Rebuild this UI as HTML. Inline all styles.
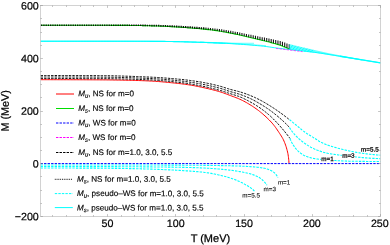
<!DOCTYPE html>
<html><head><meta charset="utf-8"><title>chart</title>
<style>html,body{margin:0;padding:0;background:#fff;width:390px;height:245px;overflow:hidden}body{font-family:"Liberation Sans",sans-serif;position:relative}</style></head>
<body>
<svg width="390" height="245" viewBox="0 0 390 245" style="position:absolute;left:0;top:0;will-change:transform">
<rect x="0" y="0" width="390" height="245" fill="#fff"/>
<clipPath id="cp"><rect x="40.5" y="5.5" width="340.0" height="211.0"/></clipPath>
<g fill="none" stroke-linecap="butt" stroke-linejoin="round" clip-path="url(#cp)">
<path d="M40.50,79.70 L41.94,79.70 L43.38,79.70 L44.82,79.70 L46.26,79.70 L47.71,79.70 L49.15,79.70 L50.59,79.70 L52.03,79.71 L53.47,79.71 L54.91,79.71 L56.35,79.71 L57.79,79.71 L59.23,79.72 L60.67,79.72 L62.12,79.72 L63.56,79.72 L65.00,79.73 L66.44,79.73 L67.88,79.73 L69.32,79.74 L70.76,79.74 L72.20,79.75 L73.64,79.75 L75.08,79.75 L76.52,79.76 L77.97,79.76 L79.41,79.77 L80.85,79.77 L82.29,79.78 L83.73,79.78 L85.17,79.79 L86.61,79.79 L88.05,79.80 L89.49,79.80 L90.93,79.81 L92.38,79.82 L93.82,79.82 L95.26,79.83 L96.70,79.83 L98.14,79.84 L99.58,79.85 L101.02,79.86 L102.46,79.86 L103.90,79.88 L105.34,79.89 L106.78,79.90 L108.22,79.92 L109.67,79.94 L111.11,79.95 L112.55,79.97 L113.99,80.00 L115.43,80.02 L116.87,80.04 L118.31,80.07 L119.75,80.09 L121.19,80.12 L122.63,80.15 L124.07,80.18 L125.51,80.21 L126.96,80.24 L128.40,80.27 L129.84,80.30 L131.28,80.33 L132.72,80.36 L134.16,80.40 L135.60,80.44 L137.04,80.48 L138.48,80.53 L139.92,80.58 L141.36,80.63 L142.80,80.69 L144.24,80.74 L145.68,80.80 L147.12,80.87 L148.56,80.93 L150.00,81.00 L151.44,81.07 L152.87,81.16 L154.31,81.25 L155.75,81.34 L157.19,81.45 L158.62,81.56 L160.06,81.67 L161.50,81.79 L162.93,81.92 L164.37,82.05 L165.80,82.18 L167.24,82.32 L168.67,82.46 L170.11,82.60 L171.54,82.75 L172.98,82.89 L174.41,83.04 L175.84,83.19 L177.27,83.34 L178.71,83.50 L180.14,83.67 L181.57,83.84 L183.00,84.02 L184.43,84.20 L185.86,84.40 L187.29,84.60 L188.71,84.80 L190.13,85.02 L191.56,85.25 L192.98,85.50 L194.39,85.76 L195.81,86.04 L197.22,86.32 L198.63,86.61 L200.04,86.91 L201.45,87.21 L202.86,87.51 L204.27,87.82 L205.68,88.13 L207.09,88.45 L208.49,88.78 L209.90,89.11 L211.30,89.45 L212.70,89.80 L214.10,90.16 L215.49,90.53 L216.88,90.90 L218.26,91.29 L219.64,91.69 L221.02,92.11 L222.38,92.57 L223.74,93.04 L225.10,93.54 L226.45,94.05 L227.80,94.56 L229.14,95.08 L230.49,95.58 L231.85,96.08 L233.20,96.58 L234.56,97.09 L235.91,97.60 L237.25,98.13 L238.58,98.68 L239.89,99.25 L241.19,99.86 L242.49,100.49 L243.77,101.15 L245.05,101.83 L246.31,102.53 L247.56,103.25 L248.81,103.98 L250.04,104.72 L251.26,105.48 L252.47,106.26 L253.67,107.06 L254.86,107.88 L256.04,108.71 L257.21,109.56 L258.37,110.43 L259.50,111.31 L260.62,112.20 L261.74,113.11 L262.84,114.04 L263.92,114.99 L265.00,115.96 L266.07,116.94 L267.12,117.93 L268.15,118.94 L269.17,119.95 L270.17,120.98 L271.16,122.03 L272.12,123.11 L273.06,124.21 L273.96,125.33 L274.83,126.47 L275.69,127.63 L276.52,128.81 L277.34,130.00 L278.14,131.20 L278.94,132.40 L279.72,133.61 L280.52,134.82 L281.30,136.04 L282.05,137.28 L282.76,138.53 L283.41,139.80 L284.00,141.10 L284.56,142.43 L285.10,143.78 L285.59,145.14 L286.05,146.51 L286.47,147.89 L286.85,149.27 L287.22,150.67 L287.57,152.07 L287.88,153.49 L288.14,154.90 L288.34,156.32 L288.52,157.75 L288.68,159.18 L288.82,160.61 L288.93,162.05 L289.00,163.50" stroke="#f00" stroke-width="1.0"/>
<path d="M40.50,25.30 L42.60,25.30 L44.69,25.30 L46.79,25.30 L48.89,25.30 L50.98,25.30 L53.08,25.30 L55.18,25.30 L57.27,25.30 L59.37,25.30 L61.47,25.30 L63.56,25.30 L65.66,25.30 L67.76,25.30 L69.85,25.30 L71.95,25.30 L74.05,25.30 L76.14,25.30 L78.24,25.30 L80.34,25.30 L82.43,25.30 L84.53,25.30 L86.63,25.30 L88.72,25.30 L90.82,25.30 L92.92,25.30 L95.01,25.30 L97.11,25.30 L99.21,25.30 L101.30,25.30 L103.40,25.30 L105.50,25.31 L107.59,25.31 L109.69,25.32 L111.79,25.33 L113.88,25.34 L115.98,25.35 L118.08,25.36 L120.17,25.37 L122.27,25.38 L124.37,25.40 L126.46,25.41 L128.56,25.42 L130.66,25.44 L132.75,25.46 L134.85,25.48 L136.95,25.51 L139.04,25.54 L141.14,25.57 L143.24,25.61 L145.33,25.67 L147.43,25.73 L149.53,25.79 L151.62,25.84 L153.72,25.90 L155.82,25.96 L157.91,26.03 L160.01,26.10 L162.11,26.18 L164.20,26.27 L166.30,26.37 L168.39,26.48 L170.49,26.59 L172.59,26.71 L174.68,26.83 L176.78,26.96 L178.88,27.09 L180.97,27.23 L183.07,27.38 L185.17,27.53 L187.26,27.69 L189.36,27.85 L191.46,28.01 L193.55,28.18 L195.65,28.36 L197.75,28.54 L199.84,28.74 L201.94,28.94 L204.04,29.14 L206.13,29.36 L208.23,29.58 L210.33,29.82 L212.42,30.07 L214.52,30.34 L216.62,30.63 L218.71,30.95 L220.81,31.30 L222.91,31.67 L225.00,32.05 L227.10,32.45 L229.20,32.85 L231.29,33.25 L233.39,33.68 L235.49,34.12 L237.58,34.57 L239.68,35.03 L241.78,35.50 L243.87,35.97 L245.97,36.46 L248.07,36.95 L250.16,37.44 L252.26,37.94 L254.36,38.45 L256.45,38.95 L258.55,39.45 L260.65,39.95 L262.74,40.46 L264.84,40.97 L266.94,41.50 L269.03,42.04 L271.13,42.60 L273.23,43.17 L275.32,43.75 L277.42,44.37 L279.52,45.04 L281.61,45.79 L283.71,46.65 L285.81,47.55 L287.90,48.50 L290.00,49.50" stroke="#0d0" stroke-width="1.1"/>
<path d="M40.5,163.6 L380.5,163.6" stroke="#00f" stroke-width="1.0" stroke-dasharray="2.4 1.14"/>
<path d="M40.50,78.50 L41.84,78.50 L43.19,78.50 L44.53,78.50 L45.87,78.50 L47.22,78.50 L48.56,78.50 L49.90,78.50 L51.25,78.51 L52.59,78.51 L53.93,78.51 L55.28,78.51 L56.62,78.51 L57.96,78.51 L59.30,78.52 L60.65,78.52 L61.99,78.52 L63.33,78.52 L64.68,78.53 L66.02,78.53 L67.36,78.53 L68.71,78.54 L70.05,78.54 L71.39,78.54 L72.74,78.55 L74.08,78.55 L75.42,78.55 L76.76,78.56 L78.11,78.56 L79.45,78.57 L80.79,78.57 L82.14,78.58 L83.48,78.58 L84.82,78.59 L86.16,78.59 L87.51,78.60 L88.85,78.60 L90.19,78.61 L91.54,78.61 L92.88,78.62 L94.22,78.62 L95.56,78.63 L96.91,78.64 L98.25,78.64 L99.59,78.65 L100.94,78.65 L102.28,78.66 L103.62,78.67 L104.97,78.69 L106.31,78.70 L107.65,78.71 L109.00,78.73 L110.34,78.75 L111.68,78.77 L113.03,78.79 L114.37,78.81 L115.71,78.84 L117.06,78.87 L118.40,78.89 L119.74,78.92 L121.09,78.95 L122.43,78.99 L123.77,79.02 L125.12,79.05 L126.46,79.09 L127.80,79.13 L129.14,79.16 L130.49,79.20 L131.83,79.24 L133.17,79.29 L134.52,79.33 L135.86,79.37 L137.20,79.42 L138.54,79.47 L139.88,79.51 L141.23,79.56 L142.57,79.61 L143.91,79.66 L145.25,79.71 L146.59,79.76 L147.93,79.82 L149.27,79.87 L150.61,79.93 L151.95,79.99 L153.29,80.06 L154.63,80.13 L155.97,80.21 L157.31,80.30 L158.65,80.40 L159.99,80.50 L161.33,80.61 L162.67,80.72 L164.01,80.83 L165.35,80.95 L166.69,81.08 L168.03,81.21 L169.37,81.34 L170.71,81.48 L172.04,81.62 L173.38,81.76 L174.71,81.91 L176.05,82.05 L177.38,82.20 L178.71,82.35 L180.05,82.51 L181.38,82.66 L182.71,82.83 L184.04,83.01 L185.37,83.20 L186.70,83.39 L188.03,83.60 L189.36,83.81 L190.68,84.02 L192.01,84.25 L193.34,84.48 L194.66,84.71 L195.98,84.95 L197.30,85.19 L198.62,85.44 L199.94,85.69 L201.26,85.94 L202.57,86.21 L203.89,86.48 L205.20,86.76 L206.52,87.04 L207.83,87.33 L209.14,87.64 L210.45,87.94 L211.76,88.26 L213.06,88.58 L214.37,88.91 L215.67,89.24 L216.97,89.58 L218.26,89.93 L219.56,90.28 L220.85,90.64 L222.13,91.02 L223.41,91.42 L224.69,91.84 L225.97,92.26 L227.24,92.69 L228.52,93.11 L229.79,93.53 L231.07,93.94 L232.36,94.34 L233.65,94.74 L234.93,95.14 L236.21,95.55 L237.49,95.98 L238.75,96.42 L240.00,96.90 L241.23,97.41 L242.46,97.95 L243.68,98.52 L244.89,99.11 L246.09,99.72 L247.29,100.34 L248.47,100.97 L249.65,101.61 L250.83,102.26 L252.00,102.91 L253.17,103.58 L254.33,104.27 L255.48,104.96 L256.62,105.67 L257.76,106.40 L258.88,107.14 L259.98,107.89 L261.08,108.66 L262.17,109.44 L263.25,110.25 L264.32,111.06 L265.38,111.90 L266.43,112.74 L267.46,113.60 L268.49,114.47 L269.50,115.35 L270.49,116.24 L271.47,117.16 L272.44,118.09 L273.40,119.03 L274.34,119.99 L275.27,120.96 L276.20,121.94 L277.12,122.92 L278.03,123.91 L278.94,124.90 L279.83,125.90 L280.72,126.91 L281.60,127.92 L282.47,128.95 L283.33,129.98 L284.19,131.01 L285.04,132.05 L285.89,133.09 L286.72,134.14 L287.55,135.20 L288.38,136.26 L289.19,137.33 L290.00,138.40" stroke="#000" stroke-width="0.95" stroke-dasharray="2.4 1.14"/>
<path d="M40.50,77.00 L41.81,77.00 L43.12,77.00 L44.44,77.00 L45.75,77.00 L47.06,77.00 L48.37,77.00 L49.69,77.00 L51.00,77.01 L52.31,77.01 L53.62,77.01 L54.94,77.01 L56.25,77.01 L57.56,77.01 L58.87,77.02 L60.19,77.02 L61.50,77.02 L62.81,77.02 L64.12,77.03 L65.43,77.03 L66.75,77.03 L68.06,77.03 L69.37,77.04 L70.68,77.04 L72.00,77.04 L73.31,77.05 L74.62,77.05 L75.93,77.06 L77.24,77.06 L78.56,77.06 L79.87,77.07 L81.18,77.07 L82.49,77.08 L83.80,77.08 L85.12,77.09 L86.43,77.09 L87.74,77.10 L89.05,77.10 L90.36,77.11 L91.68,77.11 L92.99,77.12 L94.30,77.12 L95.61,77.13 L96.92,77.14 L98.24,77.14 L99.55,77.15 L100.86,77.15 L102.17,77.16 L103.48,77.17 L104.80,77.19 L106.11,77.20 L107.42,77.22 L108.73,77.23 L110.05,77.25 L111.36,77.28 L112.67,77.30 L113.98,77.32 L115.30,77.35 L116.61,77.38 L117.92,77.41 L119.23,77.44 L120.55,77.47 L121.86,77.50 L123.17,77.54 L124.48,77.58 L125.79,77.61 L127.11,77.65 L128.42,77.69 L129.73,77.74 L131.04,77.78 L132.35,77.82 L133.67,77.87 L134.98,77.91 L136.29,77.96 L137.60,78.01 L138.91,78.06 L140.22,78.11 L141.53,78.16 L142.84,78.21 L144.15,78.26 L145.46,78.31 L146.77,78.37 L148.08,78.42 L149.39,78.47 L150.70,78.53 L152.01,78.59 L153.32,78.66 L154.63,78.73 L155.94,78.81 L157.25,78.89 L158.56,78.98 L159.87,79.07 L161.18,79.16 L162.49,79.26 L163.80,79.37 L165.11,79.47 L166.42,79.58 L167.73,79.70 L169.04,79.82 L170.34,79.94 L171.65,80.06 L172.96,80.18 L174.26,80.31 L175.57,80.44 L176.87,80.58 L178.18,80.71 L179.48,80.85 L180.78,80.98 L182.09,81.13 L183.39,81.28 L184.69,81.44 L186.00,81.61 L187.30,81.79 L188.60,81.97 L189.90,82.16 L191.20,82.35 L192.50,82.55 L193.79,82.75 L195.09,82.96 L196.38,83.18 L197.68,83.40 L198.97,83.62 L200.26,83.85 L201.55,84.08 L202.84,84.32 L204.13,84.57 L205.41,84.83 L206.70,85.10 L207.98,85.37 L209.27,85.65 L210.55,85.94 L211.83,86.24 L213.11,86.54 L214.39,86.85 L215.66,87.17 L216.93,87.49 L218.20,87.82 L219.47,88.16 L220.73,88.50 L221.99,88.88 L223.24,89.27 L224.48,89.68 L225.73,90.10 L226.97,90.52 L228.22,90.94 L229.47,91.34 L230.73,91.72 L231.99,92.08 L233.25,92.43 L234.52,92.78 L235.79,93.13 L237.05,93.49 L238.31,93.86 L239.56,94.25 L240.80,94.67 L242.03,95.11 L243.26,95.57 L244.49,96.04 L245.71,96.53 L246.93,97.04 L248.13,97.56 L249.33,98.09 L250.51,98.64 L251.69,99.21 L252.86,99.80 L254.03,100.41 L255.18,101.04 L256.33,101.68 L257.48,102.33 L258.61,102.99 L259.74,103.65 L260.87,104.32 L261.99,105.00 L263.11,105.69 L264.22,106.39 L265.33,107.10 L266.42,107.83 L267.51,108.56 L268.59,109.30 L269.66,110.06 L270.72,110.83 L271.78,111.61 L272.82,112.40 L273.86,113.21 L274.89,114.03 L275.91,114.85 L276.92,115.69 L277.93,116.53 L278.93,117.38 L279.93,118.24 L280.92,119.09 L281.90,119.96 L282.88,120.84 L283.85,121.73 L284.81,122.63 L285.75,123.54 L286.67,124.47 L287.57,125.42 L288.44,126.40 L289.30,127.40" stroke="#000" stroke-width="0.95" stroke-dasharray="2.4 1.14"/>
<path d="M40.50,75.50 L41.80,75.50 L43.09,75.50 L44.39,75.50 L45.69,75.50 L46.98,75.50 L48.28,75.50 L49.57,75.50 L50.87,75.50 L52.17,75.51 L53.46,75.51 L54.76,75.51 L56.06,75.51 L57.35,75.51 L58.65,75.52 L59.94,75.52 L61.24,75.52 L62.54,75.52 L63.83,75.52 L65.13,75.53 L66.43,75.53 L67.72,75.53 L69.02,75.54 L70.31,75.54 L71.61,75.54 L72.91,75.55 L74.20,75.55 L75.50,75.55 L76.79,75.56 L78.09,75.56 L79.39,75.57 L80.68,75.57 L81.98,75.58 L83.27,75.58 L84.57,75.58 L85.87,75.59 L87.16,75.59 L88.46,75.60 L89.75,75.60 L91.05,75.61 L92.35,75.62 L93.64,75.62 L94.94,75.63 L96.23,75.63 L97.53,75.64 L98.83,75.64 L100.12,75.65 L101.42,75.66 L102.71,75.67 L104.01,75.68 L105.31,75.69 L106.60,75.71 L107.90,75.73 L109.19,75.75 L110.49,75.77 L111.79,75.79 L113.08,75.82 L114.38,75.85 L115.67,75.88 L116.97,75.91 L118.27,75.94 L119.56,75.98 L120.86,76.01 L122.15,76.05 L123.45,76.09 L124.75,76.13 L126.04,76.17 L127.34,76.21 L128.63,76.25 L129.93,76.30 L131.23,76.35 L132.52,76.39 L133.82,76.44 L135.11,76.49 L136.41,76.54 L137.70,76.59 L139.00,76.64 L140.29,76.69 L141.59,76.75 L142.88,76.80 L144.18,76.85 L145.47,76.91 L146.77,76.96 L148.06,77.02 L149.35,77.07 L150.65,77.13 L151.94,77.19 L153.24,77.25 L154.53,77.32 L155.82,77.39 L157.12,77.47 L158.41,77.55 L159.71,77.63 L161.00,77.72 L162.30,77.81 L163.59,77.90 L164.88,77.99 L166.18,78.09 L167.47,78.19 L168.76,78.30 L170.05,78.41 L171.35,78.51 L172.64,78.63 L173.93,78.74 L175.22,78.85 L176.51,78.97 L177.80,79.09 L179.09,79.21 L180.38,79.34 L181.67,79.46 L182.96,79.60 L184.24,79.74 L185.53,79.88 L186.82,80.04 L188.11,80.19 L189.40,80.36 L190.68,80.52 L191.97,80.70 L193.25,80.88 L194.54,81.06 L195.82,81.25 L197.10,81.44 L198.38,81.64 L199.66,81.84 L200.93,82.05 L202.21,82.27 L203.49,82.50 L204.76,82.74 L206.03,82.99 L207.31,83.24 L208.58,83.50 L209.85,83.77 L211.12,84.05 L212.38,84.34 L213.65,84.63 L214.91,84.93 L216.17,85.23 L217.43,85.55 L218.68,85.86 L219.94,86.18 L221.18,86.52 L222.42,86.89 L223.66,87.28 L224.89,87.69 L226.13,88.09 L227.36,88.49 L228.60,88.89 L229.84,89.25 L231.09,89.60 L232.34,89.92 L233.60,90.24 L234.86,90.55 L236.12,90.86 L237.38,91.18 L238.63,91.51 L239.88,91.86 L241.11,92.24 L242.35,92.63 L243.58,93.04 L244.81,93.46 L246.03,93.89 L247.25,94.34 L248.46,94.80 L249.67,95.27 L250.87,95.75 L252.06,96.25 L253.26,96.77 L254.44,97.30 L255.62,97.84 L256.79,98.40 L257.96,98.97 L259.12,99.55 L260.27,100.14 L261.41,100.74 L262.55,101.36 L263.68,102.00 L264.80,102.65 L265.92,103.31 L267.03,103.98 L268.14,104.65 L269.25,105.33 L270.34,106.02 L271.44,106.71 L272.53,107.41 L273.62,108.12 L274.70,108.83 L275.77,109.56 L276.85,110.29 L277.91,111.03 L278.97,111.77 L280.03,112.52 L281.08,113.28 L282.12,114.04 L283.16,114.81 L284.20,115.59 L285.23,116.38 L286.26,117.18 L287.28,117.98 L288.29,118.78 L289.30,119.60" stroke="#000" stroke-width="0.95" stroke-dasharray="2.4 1.14"/>
<path d="M41.70,24.60 L41.70,25.93 M43.95,24.60 L43.95,25.93 M46.20,24.60 L46.20,25.93 M48.45,24.60 L48.45,25.93 M50.70,24.60 L50.70,25.93 M52.95,24.59 L52.95,25.93 M55.20,24.59 L55.20,25.93 M57.45,24.59 L57.45,25.93 M59.70,24.59 L59.70,25.93 M61.95,24.58 L61.95,25.93 M64.20,24.58 L64.20,25.93 M66.45,24.58 L66.45,25.93 M68.70,24.57 L68.70,25.92 M70.95,24.57 L70.95,25.92 M73.20,24.56 L73.20,25.92 M75.45,24.56 L75.45,25.92 M77.70,24.55 L77.70,25.92 M79.95,24.55 L79.95,25.92 M82.20,24.54 L82.20,25.92 M84.45,24.54 L84.45,25.92 M86.70,24.53 L86.70,25.92 M88.95,24.53 L88.95,25.92 M91.20,24.52 L91.20,25.91 M93.45,24.52 L93.45,25.91 M95.70,24.51 L95.70,25.91 M97.95,24.51 L97.95,25.91 M100.20,24.50 L100.20,25.91 M102.45,24.49 L102.45,25.91 M104.70,24.49 L104.70,25.91 M106.95,24.49 L106.95,25.92 M109.20,24.49 L109.20,25.92 M111.45,24.48 L111.45,25.93 M113.70,24.48 L113.70,25.94 M115.95,24.48 L115.95,25.95 M118.20,24.48 L118.20,25.95 M120.45,24.48 L120.45,25.97 M122.70,24.48 L122.70,25.98 M124.95,24.48 L124.95,25.99 M127.20,24.48 L127.20,26.00 M129.45,24.48 L129.45,26.01 M131.70,24.49 L131.70,26.03 M133.95,24.49 L133.95,26.05 M136.20,24.50 L136.20,26.07 M138.45,24.51 L138.45,26.09 M140.70,24.53 L140.70,26.12 M142.95,24.55 L142.95,26.17 M145.20,24.59 L145.20,26.22 M147.45,24.64 L147.45,26.28 M149.70,24.68 L149.70,26.34 M151.95,24.72 L151.95,26.40 M154.20,24.77 L154.20,26.46 M156.45,24.81 L156.45,26.52 M158.70,24.87 L158.70,26.59 M160.95,24.93 L160.95,26.66 M163.20,25.00 L163.20,26.75 M165.45,25.08 L165.45,26.85 M167.70,25.17 L167.70,26.96 M169.95,25.27 L169.95,27.07 M172.20,25.37 L172.20,27.19 M174.45,25.47 L174.45,27.32 M176.70,25.58 L176.70,27.45 M178.95,25.69 L178.95,27.59 M181.20,25.82 L181.20,27.73 M183.45,25.95 L183.45,27.89 M185.70,26.08 L185.70,28.04 M187.95,26.22 L187.95,28.21 M190.20,26.36 L190.20,28.37 M192.45,26.51 L192.45,28.55 M194.70,26.66 L194.70,28.72 M196.95,26.82 L196.95,28.91 M199.20,26.99 L199.20,29.11 M201.45,27.16 L201.45,29.31 M203.70,27.35 L203.70,29.53" stroke="#000" stroke-width="1.3" stroke-opacity="0.95"/>
<path d="M205.95,27.53 L205.95,29.75 M208.20,27.72 L208.20,29.98 M210.45,27.93 L210.45,30.22 M212.70,28.16 L212.70,30.48 M214.95,28.40 L214.95,30.76 M217.20,28.67 L217.20,31.08 M219.45,28.98 L219.45,31.42 M221.70,29.32 L221.70,31.80 M223.95,29.68 L223.95,32.19 M226.20,30.06 L226.20,32.60 M228.45,30.44 L228.45,33.02 M230.70,30.83 L230.70,33.44 M232.95,31.24 L232.95,33.89 M235.20,31.66 L235.20,34.35 M237.45,32.10 L237.45,34.82 M239.70,32.54 L239.70,35.31 M241.95,32.99 L241.95,35.80 M244.20,33.45 L244.20,36.30 M246.45,33.91 L246.45,36.81 M248.70,34.38 L248.70,37.32 M250.95,34.85 L250.95,37.85 M253.20,35.33 L253.20,38.37 M255.45,35.79 L255.45,38.89 M257.70,36.25 L257.70,39.42 M259.95,36.70 L259.95,39.94 M262.20,37.15 L262.20,40.46 M264.45,37.60 L264.45,40.99 M266.70,38.06 L266.70,41.53 M268.95,38.54 L268.95,42.09 M271.20,39.03 L271.20,42.67 M273.45,39.52 L273.45,43.25 M275.70,40.01 L275.70,43.86 M277.95,40.54 L277.95,44.50 M280.20,41.12 L280.20,45.21 M282.45,41.81 L282.45,46.03 M284.70,42.59 L284.70,46.95 M286.95,43.42 L286.95,47.90 M289.20,44.31 L289.20,48.92" stroke="#000" stroke-width="1.1" stroke-opacity="0.9"/>
<path d="M289.50,119.60 L289.89,119.92 L290.27,120.24 L290.66,120.56 L291.05,120.88 L291.43,121.21 L291.82,121.53 L292.21,121.85 L292.60,122.17 L292.99,122.49 L293.37,122.81 L293.76,123.12 L294.15,123.44 L294.54,123.76 L294.93,124.08 L295.32,124.40 L295.71,124.72 L296.10,125.04 L296.48,125.36 L296.87,125.68 L297.26,126.00 L297.64,126.33 L298.03,126.65 L298.42,126.97 L298.80,127.30 L299.19,127.62 L299.58,127.94 L299.96,128.27 L300.35,128.59 L300.74,128.91 L301.13,129.23 L301.52,129.54 L301.91,129.86 L302.31,130.17 L302.70,130.48 L303.10,130.79 L303.49,131.10 L303.89,131.40 L304.30,131.70 L304.70,132.00 L305.10,132.29 L305.51,132.58 L305.92,132.87 L306.34,133.15 L306.75,133.43 L307.17,133.70 L307.59,133.98 L308.01,134.25 L308.44,134.52 L308.86,134.78 L309.29,135.05 L309.72,135.31 L310.15,135.58 L310.58,135.84 L311.01,136.10 L311.44,136.36 L311.87,136.62 L312.31,136.88 L312.74,137.14 L313.17,137.40 L313.60,137.66 L314.03,137.92 L314.46,138.19 L314.89,138.45 L315.31,138.72 L315.74,138.99 L316.16,139.26 L316.58,139.54 L317.00,139.82 L317.42,140.10 L317.84,140.38 L318.26,140.65 L318.68,140.92 L319.11,141.19 L319.54,141.44 L319.98,141.69 L320.42,141.93 L320.86,142.16 L321.31,142.39 L321.76,142.62 L322.21,142.84 L322.67,143.06 L323.13,143.27 L323.59,143.48 L324.05,143.68 L324.51,143.88 L324.97,144.07 L325.44,144.26 L325.91,144.44 L326.37,144.62 L326.84,144.79 L327.31,144.96 L327.79,145.13 L328.26,145.29 L328.74,145.45 L329.21,145.61 L329.69,145.77 L330.17,145.92 L330.65,146.07 L331.13,146.22 L331.61,146.37 L332.09,146.51 L332.58,146.66 L333.06,146.80 L333.55,146.94 L334.03,147.08 L334.52,147.22 L335.00,147.36 L335.49,147.50 L335.97,147.63 L336.46,147.77 L336.94,147.90 L337.42,148.04 L337.91,148.17 L338.39,148.31 L338.88,148.44 L339.36,148.57 L339.85,148.71 L340.33,148.83 L340.82,148.96 L341.31,149.09 L341.79,149.21 L342.28,149.33 L342.77,149.46 L343.26,149.58 L343.75,149.69 L344.24,149.81 L344.73,149.92 L345.22,150.04 L345.71,150.15 L346.19,150.27 L346.69,150.38 L347.18,150.49 L347.67,150.60 L348.16,150.71 L348.65,150.82 L349.14,150.93 L349.63,151.04 L350.12,151.14 L350.61,151.25 L351.11,151.35 L351.60,151.46 L352.09,151.56 L352.58,151.66 L353.08,151.75 L353.57,151.85 L354.06,151.95 L354.56,152.04 L355.05,152.13 L355.55,152.22 L356.04,152.31 L356.54,152.39 L357.03,152.48 L357.53,152.56 L358.02,152.64 L358.52,152.73 L359.02,152.81 L359.51,152.88 L360.01,152.96 L360.51,153.04 L361.01,153.11 L361.50,153.18 L362.00,153.26 L362.50,153.33 L363.00,153.39 L363.50,153.46 L363.99,153.52 L364.49,153.59 L364.99,153.65 L365.49,153.71 L365.99,153.77 L366.49,153.83 L366.99,153.89 L367.49,153.95 L367.98,154.01 L368.48,154.06 L368.98,154.12 L369.48,154.18 L369.98,154.23 L370.48,154.29 L370.98,154.34 L371.48,154.40 L371.98,154.45 L372.48,154.50 L372.98,154.55 L373.48,154.60 L373.98,154.65 L374.48,154.70 L374.98,154.75 L375.48,154.80 L375.99,154.84 L376.49,154.89 L376.99,154.93 L377.49,154.97 L377.99,155.01 L378.49,155.05 L378.99,155.09 L379.50,155.13 L380.00,155.17 L380.50,155.20" stroke="#0ff" stroke-width="1.1" stroke-dasharray="2.4 1.14"/>
<path d="M289.50,127.60 L289.77,128.03 L290.05,128.46 L290.33,128.88 L290.62,129.31 L290.91,129.73 L291.20,130.14 L291.49,130.56 L291.79,130.97 L292.09,131.37 L292.40,131.78 L292.71,132.17 L293.02,132.57 L293.34,132.96 L293.66,133.35 L293.98,133.73 L294.31,134.11 L294.64,134.48 L294.97,134.85 L295.31,135.21 L295.65,135.57 L295.99,135.93 L296.34,136.29 L296.70,136.65 L297.06,137.00 L297.42,137.35 L297.79,137.70 L298.16,138.04 L298.53,138.39 L298.91,138.73 L299.29,139.06 L299.68,139.40 L300.06,139.73 L300.45,140.06 L300.84,140.38 L301.24,140.71 L301.64,141.02 L302.04,141.34 L302.44,141.65 L302.84,141.96 L303.24,142.26 L303.65,142.56 L304.06,142.86 L304.46,143.15 L304.87,143.44 L305.28,143.72 L305.69,144.00 L306.11,144.28 L306.53,144.55 L306.95,144.83 L307.37,145.10 L307.80,145.37 L308.23,145.63 L308.66,145.90 L309.10,146.16 L309.53,146.41 L309.97,146.67 L310.42,146.92 L310.86,147.17 L311.31,147.41 L311.75,147.65 L312.20,147.89 L312.65,148.12 L313.11,148.34 L313.56,148.57 L314.02,148.78 L314.47,149.00 L314.93,149.20 L315.39,149.41 L315.85,149.60 L316.31,149.79 L316.78,149.98 L317.25,150.15 L317.73,150.32 L318.20,150.49 L318.68,150.66 L319.16,150.82 L319.64,150.98 L320.12,151.14 L320.60,151.30 L321.07,151.47 L321.55,151.63 L322.03,151.79 L322.51,151.95 L322.99,152.11 L323.47,152.27 L323.95,152.41 L324.44,152.55 L324.92,152.69 L325.41,152.81 L325.90,152.92 L326.39,153.03 L326.88,153.13 L327.37,153.23 L327.86,153.33 L328.36,153.42 L328.85,153.52 L329.35,153.61 L329.84,153.69 L330.34,153.78 L330.84,153.86 L331.34,153.94 L331.84,154.02 L332.34,154.10 L332.84,154.17 L333.34,154.25 L333.84,154.32 L334.34,154.39 L334.84,154.46 L335.34,154.53 L335.84,154.60 L336.34,154.67 L336.84,154.74 L337.34,154.81 L337.84,154.88 L338.34,154.95 L338.84,155.01 L339.34,155.08 L339.84,155.14 L340.34,155.21 L340.84,155.27 L341.34,155.33 L341.84,155.39 L342.34,155.45 L342.84,155.51 L343.34,155.57 L343.84,155.62 L344.34,155.68 L344.84,155.74 L345.34,155.79 L345.84,155.85 L346.34,155.90 L346.85,155.96 L347.35,156.01 L347.85,156.07 L348.35,156.12 L348.85,156.18 L349.35,156.23 L349.85,156.28 L350.35,156.34 L350.86,156.39 L351.36,156.45 L351.86,156.50 L352.36,156.56 L352.86,156.61 L353.36,156.67 L353.86,156.72 L354.36,156.78 L354.86,156.83 L355.37,156.89 L355.87,156.94 L356.37,156.99 L356.87,157.05 L357.37,157.10 L357.87,157.15 L358.37,157.21 L358.88,157.26 L359.38,157.31 L359.88,157.36 L360.38,157.40 L360.88,157.45 L361.39,157.50 L361.89,157.54 L362.39,157.59 L362.89,157.63 L363.39,157.67 L363.90,157.72 L364.40,157.75 L364.90,157.79 L365.40,157.83 L365.90,157.87 L366.41,157.90 L366.91,157.94 L367.41,157.97 L367.92,158.01 L368.42,158.04 L368.92,158.08 L369.42,158.11 L369.93,158.14 L370.43,158.18 L370.93,158.21 L371.44,158.24 L371.94,158.27 L372.44,158.30 L372.95,158.33 L373.45,158.36 L373.95,158.39 L374.46,158.42 L374.96,158.45 L375.46,158.47 L375.97,158.50 L376.47,158.52 L376.97,158.55 L377.48,158.57 L377.98,158.60 L378.48,158.62 L378.99,158.64 L379.49,158.66 L380.00,158.68 L380.50,158.70" stroke="#0ff" stroke-width="1.1" stroke-dasharray="2.4 1.14"/>
<path d="M290.00,138.50 L290.18,138.98 L290.37,139.46 L290.57,139.93 L290.77,140.40 L290.98,140.87 L291.20,141.33 L291.43,141.78 L291.66,142.23 L291.89,142.68 L292.13,143.12 L292.38,143.56 L292.63,143.99 L292.89,144.42 L293.15,144.84 L293.42,145.26 L293.69,145.67 L293.97,146.08 L294.25,146.48 L294.53,146.88 L294.81,147.28 L295.10,147.67 L295.40,148.06 L295.70,148.44 L296.02,148.83 L296.35,149.21 L296.68,149.58 L297.03,149.95 L297.38,150.31 L297.74,150.67 L298.11,151.03 L298.48,151.37 L298.85,151.71 L299.23,152.04 L299.62,152.36 L300.00,152.67 L300.39,152.97 L300.78,153.27 L301.19,153.56 L301.60,153.85 L302.01,154.14 L302.44,154.42 L302.87,154.69 L303.30,154.96 L303.74,155.21 L304.18,155.44 L304.63,155.66 L305.08,155.87 L305.53,156.05 L305.98,156.23 L306.44,156.40 L306.90,156.57 L307.37,156.74 L307.84,156.90 L308.32,157.06 L308.80,157.22 L309.28,157.37 L309.76,157.51 L310.25,157.65 L310.74,157.79 L311.23,157.92 L311.72,158.04 L312.21,158.16 L312.70,158.27 L313.20,158.38 L313.69,158.48 L314.18,158.57 L314.67,158.66 L315.16,158.74 L315.65,158.81 L316.14,158.88 L316.63,158.94 L317.12,159.01 L317.61,159.07 L318.11,159.13 L318.60,159.19 L319.09,159.25 L319.59,159.31 L320.08,159.37 L320.58,159.42 L321.07,159.47 L321.57,159.53 L322.07,159.58 L322.56,159.63 L323.06,159.67 L323.56,159.72 L324.06,159.77 L324.56,159.81 L325.06,159.85 L325.56,159.90 L326.06,159.94 L326.56,159.98 L327.06,160.02 L327.56,160.06 L328.06,160.09 L328.56,160.13 L329.06,160.17 L329.56,160.20 L330.06,160.24 L330.56,160.27 L331.06,160.30 L331.56,160.33 L332.06,160.37 L332.56,160.40 L333.06,160.43 L333.56,160.46 L334.06,160.49 L334.56,160.52 L335.06,160.55 L335.56,160.57 L336.06,160.60 L336.55,160.63 L337.05,160.66 L337.55,160.69 L338.05,160.71 L338.55,160.74 L339.05,160.77 L339.55,160.80 L340.05,160.82 L340.54,160.85 L341.04,160.87 L341.54,160.90 L342.04,160.92 L342.54,160.95 L343.04,160.97 L343.54,160.99 L344.04,161.01 L344.54,161.04 L345.04,161.06 L345.54,161.07 L346.04,161.09 L346.53,161.11 L347.03,161.13 L347.53,161.14 L348.03,161.16 L348.53,161.17 L349.03,161.18 L349.53,161.19 L350.03,161.20 L350.53,161.21 L351.03,161.22 L351.53,161.23 L352.03,161.23 L352.53,161.24 L353.03,161.25 L353.53,161.26 L354.02,161.27 L354.52,161.27 L355.02,161.28 L355.52,161.29 L356.02,161.30 L356.52,161.31 L357.02,161.31 L357.52,161.32 L358.02,161.33 L358.52,161.33 L359.02,161.34 L359.52,161.35 L360.02,161.35 L360.52,161.36 L361.02,161.37 L361.51,161.37 L362.01,161.38 L362.51,161.39 L363.01,161.39 L363.51,161.40 L364.01,161.40 L364.51,161.41 L365.01,161.41 L365.51,161.42 L366.01,161.42 L366.51,161.43 L367.01,161.43 L367.51,161.44 L368.01,161.44 L368.51,161.45 L369.01,161.45 L369.51,161.46 L370.01,161.46 L370.51,161.46 L371.01,161.47 L371.51,161.47 L372.00,161.47 L372.50,161.48 L373.00,161.48 L373.50,161.48 L374.00,161.48 L374.50,161.49 L375.00,161.49 L375.50,161.49 L376.00,161.49 L376.50,161.49 L377.00,161.50 L377.50,161.50 L378.00,161.50 L378.50,161.50 L379.00,161.50 L379.50,161.50 L380.00,161.50 L380.50,161.50" stroke="#0ff" stroke-width="1.1" stroke-dasharray="2.4 1.14"/>
<path d="M40.50,165.00 L41.71,165.00 L42.92,165.00 L44.13,165.00 L45.34,165.00 L46.56,165.00 L47.77,165.00 L48.98,165.00 L50.19,165.00 L51.40,165.00 L52.61,165.00 L53.82,165.00 L55.03,165.00 L56.24,165.00 L57.46,165.00 L58.67,165.00 L59.88,165.00 L61.09,165.00 L62.30,165.00 L63.51,165.00 L64.72,165.00 L65.93,165.00 L67.14,165.00 L68.35,165.00 L69.57,165.00 L70.78,165.00 L71.99,165.00 L73.20,165.00 L74.41,165.00 L75.62,165.00 L76.83,165.01 L78.04,165.01 L79.25,165.01 L80.47,165.01 L81.68,165.01 L82.89,165.01 L84.10,165.01 L85.31,165.01 L86.52,165.01 L87.73,165.01 L88.94,165.01 L90.15,165.01 L91.36,165.01 L92.58,165.01 L93.79,165.01 L95.00,165.01 L96.21,165.01 L97.42,165.01 L98.63,165.01 L99.84,165.01 L101.05,165.01 L102.26,165.02 L103.48,165.02 L104.69,165.02 L105.90,165.02 L107.11,165.02 L108.32,165.02 L109.53,165.02 L110.74,165.02 L111.95,165.02 L113.16,165.02 L114.38,165.02 L115.59,165.02 L116.80,165.02 L118.01,165.02 L119.22,165.03 L120.43,165.03 L121.64,165.03 L122.85,165.03 L124.06,165.03 L125.27,165.03 L126.49,165.03 L127.70,165.03 L128.91,165.03 L130.12,165.03 L131.33,165.03 L132.54,165.04 L133.75,165.04 L134.96,165.04 L136.17,165.04 L137.39,165.04 L138.60,165.04 L139.81,165.04 L141.02,165.04 L142.23,165.04 L143.44,165.04 L144.65,165.05 L145.86,165.05 L147.07,165.05 L148.28,165.05 L149.50,165.05 L150.71,165.05 L151.92,165.05 L153.13,165.05 L154.34,165.06 L155.55,165.06 L156.76,165.06 L157.97,165.06 L159.18,165.07 L160.40,165.07 L161.61,165.07 L162.82,165.08 L164.03,165.08 L165.24,165.09 L166.45,165.09 L167.66,165.10 L168.87,165.10 L170.08,165.11 L171.30,165.11 L172.51,165.12 L173.72,165.12 L174.93,165.13 L176.14,165.14 L177.35,165.14 L178.56,165.15 L179.77,165.16 L180.98,165.16 L182.19,165.17 L183.41,165.18 L184.62,165.19 L185.83,165.20 L187.04,165.20 L188.25,165.21 L189.46,165.22 L190.67,165.23 L191.88,165.24 L193.09,165.25 L194.31,165.26 L195.52,165.26 L196.73,165.27 L197.94,165.28 L199.15,165.29 L200.36,165.30 L201.57,165.31 L202.78,165.32 L203.99,165.34 L205.20,165.35 L206.42,165.36 L207.63,165.38 L208.84,165.40 L210.05,165.41 L211.26,165.43 L212.47,165.45 L213.68,165.47 L214.89,165.49 L216.10,165.51 L217.31,165.53 L218.53,165.55 L219.74,165.58 L220.95,165.60 L222.16,165.62 L223.37,165.65 L224.58,165.68 L225.79,165.70 L227.00,165.73 L228.21,165.76 L229.42,165.79 L230.63,165.82 L231.84,165.85 L233.05,165.88 L234.27,165.91 L235.48,165.95 L236.69,165.99 L237.90,166.03 L239.11,166.07 L240.32,166.12 L241.53,166.17 L242.74,166.22 L243.95,166.28 L245.16,166.33 L246.37,166.40 L247.58,166.46 L248.79,166.53 L249.99,166.60 L251.20,166.68 L252.42,166.76 L253.63,166.86 L254.85,166.97 L256.07,167.09 L257.28,167.22 L258.49,167.36 L259.69,167.51 L260.89,167.68 L262.08,167.87 L263.25,168.06 L264.42,168.28 L265.61,168.56 L266.81,168.89 L268.00,169.29 L269.18,169.74 L270.32,170.23 L271.40,170.76 L272.42,171.33 L273.35,171.94 L274.24,172.66 L275.08,173.48 L275.88,174.41 L276.64,175.41 L277.34,176.48 L278.00,177.60" stroke="#0ff" stroke-width="1.1" stroke-dasharray="2.4 1.14"/>
<path d="M40.50,166.50 L41.66,166.50 L42.82,166.50 L43.98,166.50 L45.14,166.50 L46.30,166.50 L47.46,166.50 L48.62,166.50 L49.78,166.50 L50.95,166.50 L52.11,166.51 L53.27,166.51 L54.43,166.51 L55.59,166.51 L56.75,166.51 L57.91,166.51 L59.07,166.51 L60.23,166.51 L61.39,166.52 L62.55,166.52 L63.71,166.52 L64.87,166.52 L66.03,166.52 L67.19,166.52 L68.35,166.53 L69.51,166.53 L70.67,166.53 L71.84,166.53 L73.00,166.54 L74.16,166.54 L75.32,166.54 L76.48,166.54 L77.64,166.54 L78.80,166.55 L79.96,166.55 L81.12,166.55 L82.28,166.56 L83.44,166.56 L84.60,166.56 L85.76,166.56 L86.92,166.57 L88.08,166.57 L89.24,166.57 L90.40,166.58 L91.56,166.58 L92.73,166.58 L93.89,166.58 L95.05,166.59 L96.21,166.59 L97.37,166.59 L98.53,166.60 L99.69,166.60 L100.85,166.60 L102.01,166.61 L103.17,166.61 L104.33,166.61 L105.49,166.62 L106.65,166.62 L107.81,166.63 L108.97,166.63 L110.13,166.63 L111.29,166.64 L112.45,166.65 L113.62,166.65 L114.78,166.66 L115.94,166.66 L117.10,166.67 L118.26,166.67 L119.42,166.68 L120.58,166.69 L121.74,166.69 L122.90,166.70 L124.06,166.71 L125.22,166.71 L126.38,166.72 L127.54,166.73 L128.70,166.74 L129.86,166.74 L131.02,166.75 L132.18,166.76 L133.34,166.77 L134.51,166.78 L135.67,166.78 L136.83,166.79 L137.99,166.80 L139.15,166.81 L140.31,166.82 L141.47,166.83 L142.63,166.84 L143.79,166.85 L144.95,166.86 L146.11,166.87 L147.27,166.88 L148.43,166.89 L149.59,166.90 L150.75,166.91 L151.91,166.92 L153.07,166.93 L154.23,166.94 L155.39,166.95 L156.55,166.96 L157.72,166.97 L158.88,166.99 L160.04,167.00 L161.20,167.01 L162.36,167.03 L163.52,167.04 L164.68,167.05 L165.84,167.07 L167.00,167.08 L168.16,167.10 L169.32,167.12 L170.48,167.13 L171.64,167.15 L172.80,167.17 L173.96,167.19 L175.12,167.21 L176.28,167.22 L177.44,167.24 L178.60,167.27 L179.77,167.29 L180.93,167.31 L182.09,167.33 L183.25,167.35 L184.41,167.38 L185.57,167.40 L186.73,167.43 L187.89,167.45 L189.05,167.48 L190.21,167.50 L191.37,167.53 L192.53,167.57 L193.69,167.61 L194.85,167.65 L196.01,167.69 L197.17,167.74 L198.33,167.78 L199.49,167.83 L200.65,167.89 L201.80,167.94 L202.96,168.00 L204.12,168.06 L205.28,168.11 L206.44,168.18 L207.60,168.24 L208.76,168.31 L209.92,168.38 L211.08,168.45 L212.23,168.53 L213.39,168.61 L214.55,168.69 L215.71,168.78 L216.86,168.87 L218.02,168.96 L219.18,169.06 L220.33,169.16 L221.49,169.26 L222.64,169.37 L223.80,169.48 L224.95,169.60 L226.11,169.72 L227.26,169.85 L228.42,169.99 L229.57,170.12 L230.72,170.27 L231.88,170.42 L233.03,170.57 L234.17,170.73 L235.32,170.90 L236.47,171.07 L237.61,171.25 L238.76,171.43 L239.91,171.63 L241.06,171.83 L242.20,172.04 L243.35,172.26 L244.49,172.49 L245.63,172.74 L246.76,172.99 L247.88,173.26 L249.00,173.54 L250.12,173.83 L251.23,174.15 L252.35,174.49 L253.46,174.87 L254.57,175.27 L255.65,175.71 L256.71,176.17 L257.74,176.67 L258.74,177.21 L259.72,177.83 L260.68,178.52 L261.60,179.26 L262.48,180.02 L263.32,180.80 L264.12,181.62 L264.89,182.48 L265.63,183.38 L266.33,184.32 L267.00,185.30" stroke="#0ff" stroke-width="1.1" stroke-dasharray="2.4 1.14"/>
<path d="M40.50,168.00 L41.60,168.00 L42.69,168.00 L43.79,168.00 L44.88,168.00 L45.98,168.00 L47.08,168.00 L48.17,168.00 L49.27,168.01 L50.37,168.01 L51.46,168.01 L52.56,168.01 L53.65,168.01 L54.75,168.01 L55.85,168.02 L56.94,168.02 L58.04,168.02 L59.13,168.02 L60.23,168.03 L61.33,168.03 L62.42,168.03 L63.52,168.04 L64.61,168.04 L65.71,168.04 L66.81,168.05 L67.90,168.05 L69.00,168.05 L70.09,168.06 L71.19,168.06 L72.29,168.06 L73.38,168.07 L74.48,168.07 L75.57,168.08 L76.67,168.08 L77.77,168.09 L78.86,168.09 L79.96,168.10 L81.06,168.10 L82.15,168.11 L83.25,168.11 L84.34,168.12 L85.44,168.12 L86.54,168.13 L87.63,168.13 L88.73,168.14 L89.82,168.14 L90.92,168.15 L92.02,168.16 L93.11,168.16 L94.21,168.17 L95.30,168.17 L96.40,168.18 L97.50,168.19 L98.59,168.19 L99.69,168.20 L100.78,168.20 L101.88,168.21 L102.98,168.22 L104.07,168.23 L105.17,168.24 L106.26,168.25 L107.36,168.26 L108.46,168.27 L109.55,168.28 L110.65,168.30 L111.74,168.31 L112.84,168.33 L113.94,168.34 L115.03,168.36 L116.13,168.37 L117.22,168.39 L118.32,168.40 L119.42,168.42 L120.51,168.44 L121.61,168.46 L122.70,168.47 L123.80,168.49 L124.90,168.51 L125.99,168.53 L127.09,168.55 L128.18,168.57 L129.28,168.59 L130.37,168.61 L131.47,168.63 L132.57,168.65 L133.66,168.67 L134.76,168.69 L135.85,168.72 L136.95,168.74 L138.05,168.77 L139.14,168.80 L140.24,168.82 L141.33,168.85 L142.43,168.88 L143.52,168.91 L144.62,168.94 L145.72,168.97 L146.81,169.00 L147.91,169.04 L149.00,169.07 L150.10,169.10 L151.19,169.14 L152.29,169.17 L153.38,169.21 L154.48,169.25 L155.58,169.29 L156.67,169.33 L157.77,169.37 L158.86,169.41 L159.96,169.46 L161.05,169.50 L162.15,169.55 L163.24,169.59 L164.34,169.64 L165.43,169.69 L166.53,169.74 L167.62,169.79 L168.72,169.84 L169.81,169.89 L170.91,169.94 L172.00,170.00 L173.10,170.05 L174.19,170.11 L175.28,170.17 L176.38,170.23 L177.47,170.29 L178.57,170.35 L179.66,170.42 L180.76,170.48 L181.85,170.55 L182.95,170.62 L184.04,170.69 L185.13,170.76 L186.23,170.83 L187.32,170.91 L188.41,170.99 L189.51,171.06 L190.60,171.14 L191.69,171.22 L192.79,171.31 L193.88,171.39 L194.97,171.48 L196.07,171.57 L197.16,171.66 L198.25,171.75 L199.35,171.85 L200.44,171.96 L201.53,172.07 L202.62,172.18 L203.71,172.30 L204.79,172.43 L205.88,172.56 L206.96,172.71 L208.05,172.86 L209.13,173.03 L210.21,173.21 L211.29,173.40 L212.37,173.60 L213.45,173.81 L214.53,174.02 L215.61,174.24 L216.68,174.47 L217.75,174.71 L218.82,174.95 L219.89,175.19 L220.95,175.44 L222.02,175.69 L223.08,175.95 L224.14,176.22 L225.21,176.51 L226.27,176.80 L227.33,177.10 L228.38,177.41 L229.44,177.73 L230.48,178.06 L231.53,178.41 L232.57,178.76 L233.60,179.12 L234.63,179.49 L235.65,179.87 L236.66,180.26 L237.67,180.68 L238.67,181.13 L239.66,181.59 L240.65,182.08 L241.63,182.58 L242.61,183.09 L243.58,183.61 L244.54,184.13 L245.50,184.66 L246.46,185.19 L247.42,185.73 L248.36,186.30 L249.29,186.88 L250.20,187.49 L251.08,188.13 L251.94,188.80 L252.78,189.51 L253.60,190.24 L254.40,191.00" stroke="#0ff" stroke-width="1.1" stroke-dasharray="2.4 1.14"/>
<path d="M289.3,44.1 L298,46.2 L313.4,49.8 L329,53.2 L345,56.2 L362,59.4 L362,60.6 L345,57.6 L329,55.0 L313.4,52.4 L298,50.4 L289.3,49.6 Z" fill="#0ff" fill-opacity="0.62" stroke="none"/>
<path d="M289.6,49.3 L292.8,45.2" stroke="#0ff" stroke-width="0.9"/>
<path d="M292.5,49.7 L295.7,45.9" stroke="#0ff" stroke-width="0.9"/>
<path d="M295.4,50.1 L298.6,46.6" stroke="#0ff" stroke-width="0.9"/>
<path d="M298.3,50.5 L301.5,47.3" stroke="#0ff" stroke-width="0.9"/>
<path d="M301.2,50.8 L304.4,48.1" stroke="#0ff" stroke-width="0.9"/>
<path d="M304.1,51.2 L307.3,48.8" stroke="#0ff" stroke-width="0.9"/>
<path d="M307.0,51.6 L310.2,49.5" stroke="#0ff" stroke-width="0.9"/>
<path d="M309.9,52.0 L313.1,50.2" stroke="#0ff" stroke-width="0.9"/>
<path d="M40.50,41.20 L42.05,41.20 L43.60,41.20 L45.15,41.20 L46.70,41.20 L48.25,41.20 L49.80,41.20 L51.35,41.20 L52.90,41.20 L54.45,41.20 L56.00,41.20 L57.55,41.20 L59.11,41.20 L60.66,41.20 L62.21,41.20 L63.76,41.20 L65.31,41.20 L66.86,41.20 L68.41,41.20 L69.96,41.20 L71.51,41.20 L73.06,41.20 L74.61,41.20 L76.16,41.20 L77.71,41.20 L79.26,41.20 L80.81,41.20 L82.36,41.20 L83.91,41.20 L85.46,41.20 L87.01,41.20 L88.56,41.20 L90.11,41.20 L91.66,41.20 L93.21,41.20 L94.76,41.20 L96.32,41.20 L97.87,41.20 L99.42,41.20 L100.97,41.20 L102.52,41.20 L104.07,41.20 L105.62,41.20 L107.17,41.20 L108.72,41.20 L110.27,41.20 L111.82,41.21 L113.37,41.21 L114.92,41.21 L116.47,41.21 L118.02,41.21 L119.57,41.22 L121.12,41.22 L122.67,41.22 L124.22,41.23 L125.77,41.23 L127.32,41.23 L128.87,41.24 L130.42,41.24 L131.97,41.24 L133.53,41.25 L135.08,41.25 L136.63,41.26 L138.18,41.26 L139.73,41.27 L141.28,41.27 L142.83,41.28 L144.38,41.28 L145.93,41.29 L147.48,41.29 L149.03,41.30 L150.58,41.30 L152.13,41.31 L153.68,41.32 L155.23,41.33 L156.78,41.34 L158.33,41.36 L159.88,41.37 L161.43,41.39 L162.98,41.41 L164.53,41.43 L166.08,41.45 L167.63,41.47 L169.18,41.49 L170.74,41.51 L172.29,41.54 L173.84,41.56 L175.39,41.59 L176.94,41.63 L178.49,41.66 L180.04,41.70 L181.59,41.74 L183.14,41.78 L184.69,41.82 L186.24,41.87 L187.79,41.91 L189.34,41.96 L190.89,42.01 L192.44,42.06 L193.99,42.11 L195.54,42.16 L197.09,42.21 L198.64,42.26 L200.19,42.31 L201.74,42.36 L203.29,42.41 L204.84,42.46 L206.39,42.52 L207.95,42.58 L209.50,42.64 L211.05,42.70 L212.60,42.76 L214.15,42.82 L215.70,42.89 L217.25,42.95 L218.80,43.02 L220.35,43.09 L221.90,43.16 L223.45,43.23 L225.00,43.30" stroke="#0ff" stroke-width="1.15"/>
<path d="M40.50,41.20 L43.36,41.20 L46.21,41.20 L49.07,41.20 L51.93,41.20 L54.79,41.20 L57.64,41.20 L60.50,41.20 L63.36,41.20 L66.21,41.20 L69.07,41.20 L71.93,41.20 L74.79,41.20 L77.64,41.20 L80.50,41.20 L83.36,41.20 L86.21,41.20 L89.07,41.20 L91.93,41.20 L94.79,41.20 L97.64,41.20 L100.50,41.20 L103.36,41.20 L106.21,41.20 L109.07,41.20 L111.93,41.21 L114.79,41.21 L117.64,41.21 L120.50,41.22 L123.36,41.22 L126.21,41.23 L129.07,41.24 L131.93,41.24 L134.79,41.25 L137.64,41.26 L140.50,41.27 L143.36,41.28 L146.21,41.29 L149.07,41.30 L151.93,41.31 L154.79,41.33 L157.64,41.35 L160.50,41.38 L163.36,41.41 L166.21,41.45 L169.07,41.49 L171.93,41.53 L174.79,41.58 L177.64,41.64 L180.50,41.71 L183.36,41.79 L186.21,41.87 L189.07,41.95 L191.93,42.04 L194.79,42.13 L197.64,42.22 L200.50,42.32 L203.36,42.41 L206.21,42.51 L209.07,42.61 L211.93,42.72 L214.79,42.84 L217.64,42.96 L220.50,43.09 L223.36,43.22 L226.21,43.36 L229.07,43.52 L231.93,43.70 L234.79,43.89 L237.64,44.08 L240.50,44.27 L243.36,44.48 L246.21,44.70 L249.07,44.92 L251.93,45.16 L254.79,45.40 L257.64,45.65 L260.50,45.92 L263.36,46.21 L266.21,46.53 L269.07,46.91 L271.93,47.35 L274.79,47.77 L277.64,48.13 L280.50,48.48 L283.36,48.81 L286.21,49.14 L289.07,49.47 L291.93,49.79 L294.79,50.11 L297.64,50.43 L300.50,50.76 L303.36,51.09 L306.21,51.41 L309.07,51.74 L311.93,52.07 L314.79,52.42 L317.64,52.78 L320.50,53.17 L323.36,53.59 L326.21,54.04 L329.07,54.51 L331.93,54.98 L334.79,55.44 L337.64,55.91 L340.50,56.38 L343.36,56.84 L346.21,57.29 L349.07,57.75 L351.93,58.21 L354.79,58.67 L357.64,59.14 L360.50,59.60 L363.36,60.07 L366.21,60.54 L369.07,61.01 L371.93,61.48 L374.79,61.95 L377.64,62.42 L380.50,62.90" stroke="#0ff" stroke-width="0.95"/>
<path d="M200.00,42.10 L200.45,42.12 L200.91,42.13 L201.36,42.15 L201.82,42.16 L202.27,42.18 L202.72,42.20 L203.18,42.21 L203.63,42.23 L204.08,42.24 L204.54,42.26 L204.99,42.27 L205.45,42.29 L205.90,42.30 L206.35,42.32 L206.81,42.33 L207.26,42.35 L207.71,42.36 L208.17,42.38 L208.62,42.39 L209.08,42.41 L209.53,42.42 L209.98,42.44 L210.44,42.45 L210.89,42.47 L211.34,42.48 L211.80,42.50 L212.25,42.51 L212.71,42.53 L213.16,42.54 L213.61,42.56 L214.07,42.57 L214.52,42.58 L214.97,42.60 L215.43,42.61 L215.88,42.63 L216.34,42.64 L216.79,42.65 L217.24,42.67 L217.70,42.68 L218.15,42.70 L218.61,42.71 L219.06,42.72 L219.51,42.74 L219.97,42.75 L220.42,42.77 L220.87,42.78 L221.33,42.79 L221.78,42.81 L222.24,42.82 L222.69,42.83 L223.14,42.85 L223.60,42.86 L224.05,42.87 L224.50,42.89 L224.96,42.90 L225.41,42.91 L225.87,42.93 L226.32,42.94 L226.77,42.96 L227.23,42.97 L227.68,42.99 L228.13,43.00 L228.59,43.02 L229.04,43.03 L229.50,43.05 L229.95,43.07 L230.40,43.08 L230.86,43.10 L231.31,43.11 L231.76,43.13 L232.22,43.14 L232.67,43.16 L233.13,43.17 L233.58,43.19 L234.03,43.20 L234.49,43.21 L234.94,43.23 L235.39,43.24 L235.85,43.25 L236.30,43.26 L236.76,43.27 L237.21,43.28 L237.66,43.28 L238.12,43.29 L238.57,43.29 L239.03,43.30 L239.48,43.30 L239.93,43.30 L240.39,43.30 L240.84,43.30 L241.29,43.30 L241.75,43.30 L242.20,43.30 L242.66,43.30 L243.11,43.30 L243.56,43.30 L244.02,43.30 L244.47,43.30 L244.92,43.30 L245.38,43.30 L245.83,43.30 L246.29,43.30 L246.74,43.30 L247.19,43.30 L247.65,43.30 L248.10,43.30 L248.55,43.30 L249.01,43.30 L249.46,43.30 L249.92,43.30 L250.37,43.30 L250.82,43.30 L251.28,43.30 L251.73,43.30 L252.18,43.30 L252.64,43.30 L253.09,43.30 L253.55,43.30 L254.00,43.30" stroke="#0ff" stroke-width="0.7"/>
<path d="M225.00,43.20 L225.34,43.22 L225.69,43.23 L226.03,43.25 L226.38,43.26 L226.72,43.28 L227.07,43.30 L227.41,43.31 L227.76,43.33 L228.10,43.35 L228.45,43.36 L228.79,43.38 L229.13,43.40 L229.48,43.41 L229.82,43.43 L230.17,43.45 L230.51,43.47 L230.86,43.48 L231.20,43.50 L231.55,43.52 L231.89,43.54 L232.24,43.55 L232.58,43.57 L232.92,43.59 L233.27,43.61 L233.61,43.63 L233.96,43.64 L234.30,43.66 L234.65,43.68 L234.99,43.70 L235.34,43.72 L235.68,43.74 L236.03,43.76 L236.37,43.78 L236.71,43.79 L237.06,43.81 L237.40,43.83 L237.75,43.85 L238.09,43.87 L238.44,43.89 L238.78,43.91 L239.13,43.93 L239.47,43.95 L239.82,43.97 L240.16,43.99 L240.50,44.01 L240.85,44.03 L241.19,44.05 L241.54,44.07 L241.88,44.09 L242.23,44.12 L242.57,44.14 L242.92,44.16 L243.26,44.18 L243.61,44.20 L243.95,44.22 L244.29,44.24 L244.64,44.26 L244.98,44.28 L245.33,44.30 L245.67,44.33 L246.02,44.35 L246.36,44.37 L246.71,44.39 L247.05,44.41 L247.39,44.43 L247.74,44.46 L248.08,44.48 L248.43,44.50 L248.77,44.52 L249.12,44.54 L249.46,44.57 L249.81,44.59 L250.15,44.61 L250.50,44.63 L250.84,44.65 L251.18,44.68 L251.53,44.70 L251.87,44.72 L252.22,44.74 L252.56,44.77 L252.91,44.79 L253.25,44.81 L253.60,44.83 L253.94,44.86 L254.29,44.88 L254.63,44.90 L254.97,44.93 L255.32,44.95 L255.66,44.97 L256.01,45.00 L256.35,45.02 L256.70,45.04 L257.04,45.07 L257.39,45.09 L257.73,45.11 L258.08,45.14 L258.42,45.16 L258.76,45.18 L259.11,45.21 L259.45,45.23 L259.80,45.26 L260.14,45.28 L260.49,45.30 L260.83,45.33 L261.18,45.35 L261.52,45.38 L261.87,45.40 L262.21,45.43 L262.55,45.45 L262.90,45.48 L263.24,45.50 L263.59,45.52 L263.93,45.55 L264.28,45.57 L264.62,45.60 L264.97,45.62 L265.31,45.65 L265.66,45.67 L266.00,45.70" stroke="#0ff" stroke-width="0.7"/>
<path d="M340,56.3 L350,57.9 L380.5,62.9" stroke="#0ff" stroke-width="1.45"/>
<path d="M276,48.4 L289.4,50.0 L302.5,51.6" stroke="#f0f" stroke-width="0.85" stroke-dasharray="2.4 1.14" stroke-opacity="0.8"/>
</g>
<rect x="40.5" y="5.5" width="340.0" height="211.0" fill="none" stroke="#a6a6a6" stroke-width="0.5"/>
<path d="M52.50,216.5 v-1.5 M52.50,5.5 v1.5 M66.50,216.5 v-1.5 M66.50,5.5 v1.5 M80.50,216.5 v-1.5 M80.50,5.5 v1.5 M93.50,216.5 v-1.5 M93.50,5.5 v1.5 M107.50,216.5 v-2.4 M107.50,5.5 v2.4 M121.50,216.5 v-1.5 M121.50,5.5 v1.5 M134.50,216.5 v-1.5 M134.50,5.5 v1.5 M148.50,216.5 v-1.5 M148.50,5.5 v1.5 M162.50,216.5 v-1.5 M162.50,5.5 v1.5 M175.50,216.5 v-2.4 M175.50,5.5 v2.4 M189.50,216.5 v-1.5 M189.50,5.5 v1.5 M203.50,216.5 v-1.5 M203.50,5.5 v1.5 M216.50,216.5 v-1.5 M216.50,5.5 v1.5 M230.50,216.5 v-1.5 M230.50,5.5 v1.5 M244.50,216.5 v-2.4 M244.50,5.5 v2.4 M257.50,216.5 v-1.5 M257.50,5.5 v1.5 M271.50,216.5 v-1.5 M271.50,5.5 v1.5 M285.50,216.5 v-1.5 M285.50,5.5 v1.5 M298.50,216.5 v-1.5 M298.50,5.5 v1.5 M312.50,216.5 v-2.4 M312.50,5.5 v2.4 M326.50,216.5 v-1.5 M326.50,5.5 v1.5 M339.50,216.5 v-1.5 M339.50,5.5 v1.5 M353.50,216.5 v-1.5 M353.50,5.5 v1.5 M367.50,216.5 v-1.5 M367.50,5.5 v1.5 M380.50,216.5 v-2.4 M380.50,5.5 v2.4 M40.5,216.50 h2.4 M380.5,216.50 h-2.4 M40.5,203.50 h1.5 M380.5,203.50 h-1.5 M40.5,190.50 h1.5 M380.5,190.50 h-1.5 M40.5,176.50 h1.5 M380.5,176.50 h-1.5 M40.5,163.50 h2.4 M380.5,163.50 h-2.4 M40.5,150.50 h1.5 M380.5,150.50 h-1.5 M40.5,137.50 h1.5 M380.5,137.50 h-1.5 M40.5,124.50 h1.5 M380.5,124.50 h-1.5 M40.5,111.50 h2.4 M380.5,111.50 h-2.4 M40.5,97.50 h1.5 M380.5,97.50 h-1.5 M40.5,84.50 h1.5 M380.5,84.50 h-1.5 M40.5,71.50 h1.5 M380.5,71.50 h-1.5 M40.5,58.50 h2.4 M380.5,58.50 h-2.4 M40.5,45.50 h1.5 M380.5,45.50 h-1.5 M40.5,32.50 h1.5 M380.5,32.50 h-1.5 M40.5,18.50 h1.5 M380.5,18.50 h-1.5 M40.5,5.50 h2.4 M380.5,5.50 h-2.4" stroke="#8a8a8a" stroke-width="0.5" fill="none"/>
<g font-family="Liberation Sans, sans-serif" font-size="10.7px" fill="#000" stroke="#000" stroke-width="0.2">
<text x="107.40" y="227" text-anchor="middle" transform="rotate(0.03 107.4 227)">50</text>
<text x="175.70" y="227" text-anchor="middle" transform="rotate(0.03 175.7 227)">100</text>
<text x="244.10" y="227" text-anchor="middle" transform="rotate(0.03 244.1 227)">150</text>
<text x="311.90" y="227" text-anchor="middle" transform="rotate(0.03 311.9 227)">200</text>
<text x="379.80" y="227" text-anchor="middle" transform="rotate(0.03 379.8 227)">250</text>
<text x="38.8" y="9.45" text-anchor="end" transform="rotate(0.03 38 9.7)">600</text>
<text x="38.8" y="62.15" text-anchor="end" transform="rotate(0.03 38 62.4)">400</text>
<text x="38.8" y="114.85" text-anchor="end" transform="rotate(0.03 38 115.1)">200</text>
<text x="38.8" y="167.55" text-anchor="end" transform="rotate(0.03 38 167.8)">0</text>
<text x="38.8" y="220.25" text-anchor="end" transform="rotate(0.03 38 220.5)">−200</text>
</g>
<g font-family="Liberation Sans, sans-serif" fill="#000">
<text x="210.4" y="241.9" font-size="11px" text-anchor="middle" stroke="#000" stroke-width="0.25" transform="rotate(0.03 210 242)">T (MeV)</text>
<text transform="translate(8.8,110.8) rotate(-89.97)" font-size="10.8px" text-anchor="middle" stroke="#000" stroke-width="0.25">M (MeV)</text>
<rect x="360.5" y="146.5" width="18.6" height="5.6" fill="#fff"/>
<text x="369.8" y="151.5" font-size="6.3px" text-anchor="middle" stroke="#000" stroke-width="0.25" transform="rotate(0.03 369.8 151.5)">m=5.5</text>
<rect x="341.7" y="152.7" width="13.4" height="5.6" fill="#fff"/>
<text x="348.4" y="157.7" font-size="6.3px" text-anchor="middle" stroke="#000" stroke-width="0.25" transform="rotate(0.03 348.4 157.7)">m=3</text>
<rect x="320.8" y="156.1" width="13.4" height="5.6" fill="#fff"/>
<text x="327.5" y="161.1" font-size="6.3px" text-anchor="middle" stroke="#000" stroke-width="0.25" transform="rotate(0.03 327.5 161.1)">m=1</text>
<rect x="277.4" y="179.6" width="13.4" height="5.6" fill="#fff"/>
<text x="284.1" y="184.6" font-size="6.3px" text-anchor="middle" stroke="#000" stroke-width="0.08" transform="rotate(0.03 284.1 184.6)">m=1</text>
<rect x="263.1" y="186.2" width="13.4" height="5.6" fill="#fff"/>
<text x="269.8" y="191.2" font-size="6.3px" text-anchor="middle" stroke="#000" stroke-width="0.08" transform="rotate(0.03 269.8 191.2)">m=3</text>
<rect x="241.8" y="192.5" width="18.6" height="5.6" fill="#fff"/>
<text x="251.1" y="197.5" font-size="6.3px" text-anchor="middle" stroke="#000" stroke-width="0.08" transform="rotate(0.03 251.1 197.5)">m=5.5</text>
</g>
<g font-family="Liberation Sans, sans-serif" font-size="8.1px" fill="#000" stroke="#000" stroke-width="0.15">
<path d="M56,94.0 L74,94.0" stroke="#f00" stroke-width="1.0" fill="none"/>
<text x="78.2" y="96.2" transform="rotate(0.03 78 96.2)"><tspan font-style="italic">M</tspan><tspan font-style="italic" font-size="6px" dy="1.6">u</tspan><tspan dy="-1.6">, NS for m=0</tspan></text>
<path d="M56,108.5 L74,108.5" stroke="#0d0" stroke-width="1.0" fill="none"/>
<text x="78.2" y="110.9" transform="rotate(0.03 78 110.9)"><tspan font-style="italic">M</tspan><tspan font-style="italic" font-size="6px" dy="1.6">s</tspan><tspan dy="-1.6">, NS for m=0</tspan></text>
<path d="M56,123.0 L74,123.0" stroke="#00f" stroke-width="1.0" fill="none" stroke-dasharray="2.4 1.14"/>
<text x="78.2" y="125.5" transform="rotate(0.03 78 125.5)"><tspan font-style="italic">M</tspan><tspan font-style="italic" font-size="6px" dy="1.6">u</tspan><tspan dy="-1.6">, WS for m=0</tspan></text>
<path d="M56,137.5 L74,137.5" stroke="#f0f" stroke-width="1.0" fill="none" stroke-dasharray="2.4 1.14"/>
<text x="78.2" y="140.1" transform="rotate(0.03 78 140.1)"><tspan font-style="italic">M</tspan><tspan font-style="italic" font-size="6px" dy="1.6">s</tspan><tspan dy="-1.6">, WS for m=0</tspan></text>
<path d="M56,152.5 L74,152.5" stroke="#000" stroke-width="1.0" fill="none" stroke-dasharray="2.4 1.14"/>
<text x="78.2" y="154.9" transform="rotate(0.03 78 154.9)"><tspan font-style="italic">M</tspan><tspan font-style="italic" font-size="6px" dy="1.6">u</tspan><tspan dy="-1.6">, NS for m=1.0, 3.0, 5.5</tspan></text>
<path d="M54.8,179.3 L72.8,179.3" stroke="#000" stroke-width="1.0" fill="none" stroke-dasharray="0.9 0.9"/>
<text x="77.0" y="181.7" transform="rotate(0.03 78 181.7)"><tspan font-style="italic">M</tspan><tspan font-style="italic" font-size="6px" dy="1.6">s</tspan><tspan dy="-1.6">, NS for m=1.0, 3.0, 5.5</tspan></text>
<path d="M54.8,193.6 L72.8,193.6" stroke="#0ff" stroke-width="1.0" fill="none" stroke-dasharray="2.4 1.14"/>
<text x="77.0" y="196.1" transform="rotate(0.03 78 196.1)"><tspan font-style="italic">M</tspan><tspan font-style="italic" font-size="6px" dy="1.6">u</tspan><tspan dy="-1.6">, pseudo–WS for m=1.0, 3.0, 5.5</tspan></text>
<path d="M54.8,207.6 L72.8,207.6" stroke="#0ff" stroke-width="1.0" fill="none"/>
<text x="77.0" y="210.5" transform="rotate(0.03 78 210.5)"><tspan font-style="italic">M</tspan><tspan font-style="italic" font-size="6px" dy="1.6">s</tspan><tspan dy="-1.6">, pseudo–WS for m=1.0, 3.0, 5.5</tspan></text>
</g>
</svg>
</body></html>
